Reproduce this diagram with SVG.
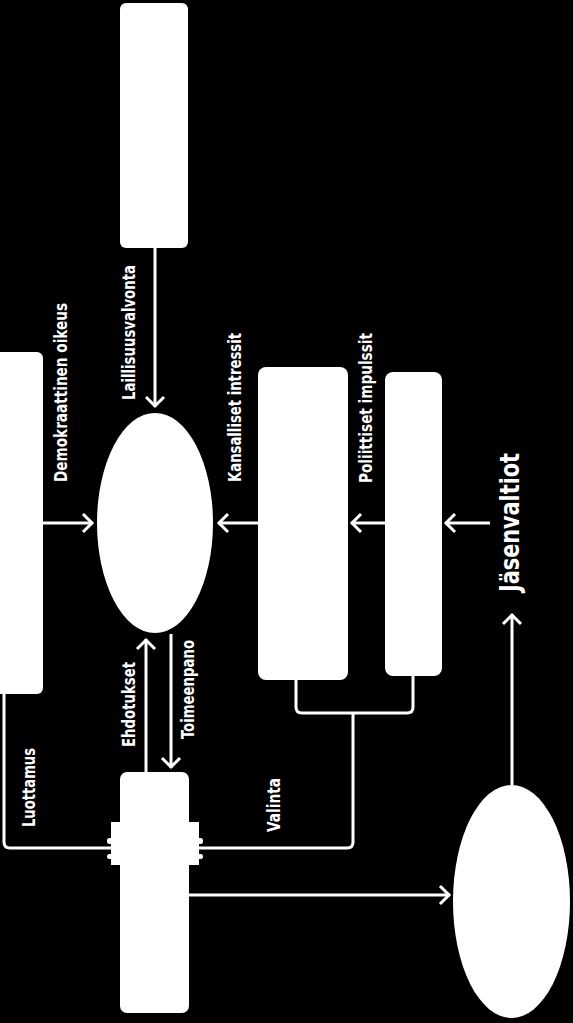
<svg xmlns="http://www.w3.org/2000/svg" width="573" height="1023" viewBox="0 0 573 1023">
<style>
.bg{fill:#000}
.node{fill:#fff;stroke:none}
.conn{fill:none;stroke:#fff;stroke-width:3}
.lbl{fill:#fff;font-family:"DejaVu Sans Condensed","DejaVu Sans",sans-serif;font-weight:bold;font-size:17px;font-stretch:condensed}
.big{font-size:27px}
</style>
<defs>
<marker id="arr" markerUnits="userSpaceOnUse" markerWidth="24" markerHeight="24" viewBox="-12 -12 24 24" refX="0" refY="0" orient="auto">
<path d="M-10,-9 L-1,0 L-10,9" fill="none" stroke="#fff" stroke-width="3"/>
</marker>
</defs>
<rect class="bg" x="0" y="0" width="573" height="1023"/>
<g id="connectors">
<path class="conn" d="M155,248 V407" marker-end="url(#arr)"/>
<path class="conn" d="M43,523 H93" marker-end="url(#arr)"/>
<path class="conn" d="M258,523 H218" marker-end="url(#arr)"/>
<path class="conn" d="M385,523 H351" marker-end="url(#arr)"/>
<path class="conn" d="M490,523 H445" marker-end="url(#arr)"/>
<path class="conn" d="M512,785 V614" marker-end="url(#arr)"/>
<path class="conn" d="M146,772 V639" marker-end="url(#arr)"/>
<path class="conn" d="M171,634 V768" marker-end="url(#arr)"/>
<path class="conn" d="M189,895 H450" marker-end="url(#arr)"/>
<path class="conn" d="M4,694 V842 Q4,848 10,848 H347 Q353,848 353,842 V713"/>
<path class="conn" d="M296,680 V707 Q296,713 302,713 H407 Q413,713 413,707 V676"/>
</g>
<g id="node-laillisuus"><rect class="node" x="120" y="3" width="68" height="245" rx="6"/></g>
<g id="node-demokraattinen"><rect class="node" x="-10" y="352" width="53" height="342" rx="6"/></g>
<g id="node-center"><ellipse class="node" cx="155" cy="523" rx="58" ry="110"/></g>
<g id="node-kansalliset"><rect class="node" x="258" y="367" width="90" height="313" rx="8"/></g>
<g id="node-poliittiset"><rect class="node" x="385" y="372" width="57" height="304" rx="8"/></g>
<g id="node-bottom">
<rect class="node" x="120" y="772" width="69" height="241" rx="7"/>
<rect class="node" x="111" y="822" width="88" height="43"/>
<rect class="node" x="107" y="838" width="96" height="6" rx="2.5"/>
<rect class="node" x="107" y="854" width="96" height="5" rx="2.5"/>
</g>
<g id="node-ellipse2"><ellipse class="node" cx="511.5" cy="901.5" rx="58.5" ry="116.5"/></g>
<g id="labels">
<text class="lbl" transform="translate(67,482) rotate(-90)" textLength="179" lengthAdjust="spacingAndGlyphs">Demokraattinen oikeus</text>
<text class="lbl" transform="translate(135,400) rotate(-90)" textLength="135" lengthAdjust="spacingAndGlyphs">Laillisuusvalvonta</text>
<text class="lbl" transform="translate(241,482) rotate(-90)" textLength="149" lengthAdjust="spacingAndGlyphs">Kansalliset intressit</text>
<text class="lbl" transform="translate(372,483) rotate(-90)" textLength="150" lengthAdjust="spacingAndGlyphs">Poliittiset impulssit</text>
<text class="lbl big" transform="translate(519,592) rotate(-90)" textLength="139" lengthAdjust="spacingAndGlyphs">Jäsenvaltiot</text>
<text class="lbl" transform="translate(135,747) rotate(-90)" textLength="85" lengthAdjust="spacingAndGlyphs">Ehdotukset</text>
<text class="lbl" transform="translate(194,739) rotate(-90)" textLength="99" lengthAdjust="spacingAndGlyphs">Toimeenpano</text>
<text class="lbl" transform="translate(35,827) rotate(-90)" textLength="79" lengthAdjust="spacingAndGlyphs">Luottamus</text>
<text class="lbl" transform="translate(280,832) rotate(-90)" textLength="54" lengthAdjust="spacingAndGlyphs">Valinta</text>
</g>
</svg>
